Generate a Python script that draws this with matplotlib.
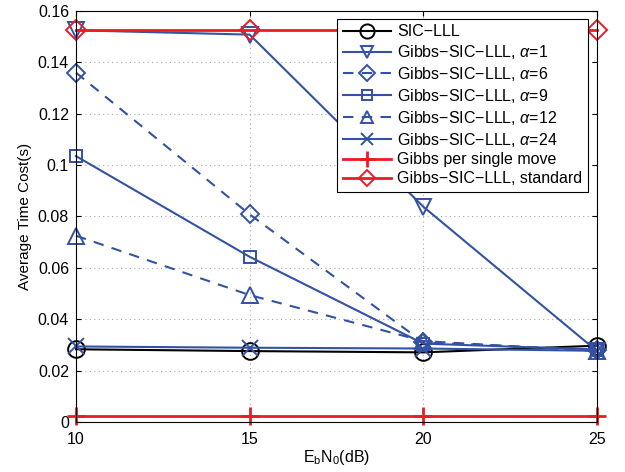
import matplotlib
matplotlib.use("Agg")
import matplotlib.pyplot as plt

plt.rcParams['font.family'] = ['Liberation Sans', 'DejaVu Sans']
plt.rcParams['mathtext.fontset'] = 'custom'
plt.rcParams['mathtext.rm'] = 'Liberation Sans'
plt.rcParams['mathtext.it'] = 'Liberation Sans:italic'

## data
snr = [10, 15, 20, 25]
sic_lll = [0.0283, 0.0276, 0.0271, 0.0297]
alpha1 = [0.1525, 0.1508, 0.0838, 0.0276]
alpha6 = [0.1360, 0.0808, 0.0310, 0.0280]
alpha9 = [0.1035, 0.0643, 0.0305, 0.0282]
alpha12 = [0.0725, 0.0494, 0.0315, 0.0276]
alpha24 = [0.0294, 0.0289, 0.0286, 0.0277]
single_move = [0.0022, 0.0022, 0.0022, 0.0022]
standard = [0.1525, 0.1525, 0.1525, 0.1525]

blue = '#3352A4'
red = '#EC1C24'
g = 'Gibbs\u2212SIC\u2212LLL, '

fig = plt.figure(figsize=(6.25, 4.72), dpi=100)
ax = fig.add_axes([0.1216, 0.106, 0.8336, 0.8707])

mk = dict(markerfacecolor='none', markeredgewidth=1.4, clip_on=False)
ax.plot(snr, sic_lll, '-', color='black', lw=1.5, marker='o', ms=12, label='SIC\u2212LLL', **mk)
ax.plot(snr, alpha1, '-', color=blue, lw=1.5, marker='v', ms=11, label=g + r'$\alpha$=1', **mk)
ax.plot(snr, alpha6, '--', color=blue, lw=1.5, marker='D', ms=9, dashes=(5, 4), label=g + r'$\alpha$=6', **mk)
ax.plot(snr, alpha9, '-', color=blue, lw=1.5, marker='s', ms=9, label=g + r'$\alpha$=9', **mk)
ax.plot(snr, alpha12, '--', color=blue, lw=1.5, marker='^', ms=11, dashes=(5, 4), label=g + r'$\alpha$=12', **mk)
ax.plot(snr, alpha24, '-', color=blue, lw=1.5, marker='x', ms=11, label=g + r'$\alpha$=24', **mk)
ax.plot(snr, single_move, '-', color=red, lw=2, marker='+', ms=13, label='Gibbs per single move',
        markeredgewidth=2, clip_on=False)
ax.plot(snr, standard, '-', color=red, lw=2, marker='D', ms=10, label='Gibbs\u2212SIC\u2212LLL, standard', **mk)

ax.set_xlim(10, 25)
ax.set_ylim(0, 0.16)
ax.set_xticks([10, 15, 20, 25])
ax.set_yticks([0, 0.02, 0.04, 0.06, 0.08, 0.1, 0.12, 0.14, 0.16])
ax.set_yticklabels(['0', '0.02', '0.04', '0.06', '0.08', '0.1', '0.12', '0.14', '0.16'])
ax.tick_params(direction='in', labelsize=11.5, top=True, right=True, pad=5)
ax.tick_params(axis='x', pad=7)
ax.grid(True, linestyle=(0, (1, 3)), color='#aaaaaa', lw=0.8)
ax.set_xlabel(r'E$_\mathrm{b}$N$_0$(dB)', fontsize=11.5, labelpad=1)
ax.set_ylabel('Average Time Cost(s)', fontsize=11)
for s in ax.spines.values():
    s.set_linewidth(0.8)

leg = ax.legend(loc='upper right', bbox_to_anchor=(0.982, 0.981), fontsize=11.5, handlelength=3.0,
                borderpad=0.35, labelspacing=0.24, handletextpad=0.4, fancybox=False, framealpha=1,
                edgecolor='black', borderaxespad=0, markerscale=0.85)
leg.get_frame().set_linewidth(0.8)

fig.savefig('out.png', dpi=100)
